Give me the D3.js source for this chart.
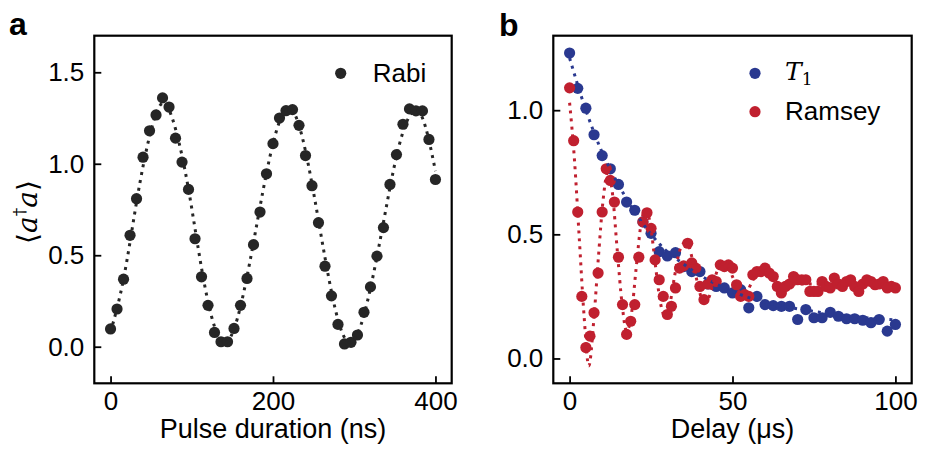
<!DOCTYPE html>
<html>
<head>
<meta charset="utf-8">
<script src="https://cdn.jsdelivr.net/npm/d3@7"></script>
<style>
  body { margin: 0; background: #fff; }
  svg text { font-family: "Liberation Sans", Arial, sans-serif; fill: #000; }
</style>
</head>
<body>
<div id="chart"></div>
<script>
// ---- panel a: Rabi oscillation ----
var rabiTime = [0, 8, 16, 24, 32, 40, 48, 56, 64, 72, 80, 88, 96, 104, 112, 120, 128, 136, 144, 152,
  160, 168, 176, 184, 192, 200, 208, 216, 224, 232, 240, 248, 256, 264, 272, 280, 288, 296, 304, 312,
  320, 328, 336, 344, 352, 360, 368, 376, 384, 392, 400];
var rabiPop = [0.097, 0.206, 0.369, 0.609, 0.809, 1.036, 1.18, 1.267, 1.36, 1.31, 1.14, 1.009, 0.86, 0.59, 0.382, 0.226, 0.078, 0.027, 0.027, 0.10,
  0.226, 0.373, 0.558, 0.736, 0.945, 1.11, 1.25, 1.29, 1.296, 1.21, 1.045, 0.88, 0.678, 0.44, 0.278, 0.122, 0.015, 0.024, 0.064, 0.188,
  0.327, 0.495, 0.651, 0.887, 1.05, 1.216, 1.30, 1.289, 1.289, 1.133, 0.914];
// fitted curve
var rabiFitTime = [0, 16, 32, 48, 64, 80, 96, 112, 128, 144, 160, 176, 192, 208, 224, 240, 256, 272, 288, 304, 320, 336, 352, 368, 384, 400];
var rabiFitPop = [0.08, 0.37, 0.79, 1.15, 1.33, 1.19, 0.86, 0.43, 0.11, 0.03, 0.22, 0.57, 0.95, 1.23, 1.29, 1.07, 0.69, 0.30, 0.05, 0.07, 0.32, 0.68, 1.04, 1.26, 1.25, 0.96];

// ---- panel b: T1 and Ramsey ----
var t1Delay = [0, 2.5, 5, 7.5, 10, 12.5, 15, 17.5, 20, 22.5, 25, 27.5, 30, 32.5, 35, 37.5, 40, 42.5, 45, 47.5,
  50, 52.5, 55, 57.5, 60, 62.5, 65, 67.5, 70, 72.5, 75, 77.5, 80, 82.5, 85, 87.5, 90, 92.5, 95, 97.5, 100];
var t1Pop = [1.23, 1.088, 1.008, 0.901, 0.817, 0.764, 0.701, 0.63, 0.597, 0.55, 0.504, 0.43, 0.413, 0.426, 0.37, 0.35, 0.35, 0.30, 0.29, 0.284,
  0.264, 0.277, 0.204, 0.25, 0.217, 0.213, 0.21, 0.21, 0.157, 0.197, 0.164, 0.164, 0.186, 0.17, 0.16, 0.16, 0.154, 0.144, 0.157, 0.11, 0.137];
var t1FitDelay = [0, 5, 10, 15, 20, 25, 30, 35, 40, 45, 50, 55, 60, 70, 80, 90, 100];
var t1FitPop = [1.21, 1.0, 0.83, 0.70, 0.59, 0.50, 0.43, 0.38, 0.335, 0.30, 0.27, 0.245, 0.225, 0.20, 0.18, 0.165, 0.155];

var ramseyDelay = [0, 1.25, 2.5, 3.75, 5, 6.25, 7.5, 8.75, 10, 11.25, 12.5, 13.75, 15, 16.25, 17.5, 18.75, 20, 21.25, 22.5, 23.75,
  25, 26.25, 27.5, 28.75, 30, 31.25, 32.5, 33.75, 35, 36.25, 37.5, 38.75, 40, 41.25, 42.5, 43.75, 45, 46.25, 47.5, 48.75,
  50, 51.25, 52.5, 53.75, 55, 56.25, 57.5, 58.75, 60, 61.25, 62.5, 63.75, 65, 66.25, 67.5, 68.75, 70, 71.25, 72.5, 73.75,
  75, 76.25, 77.5, 78.75, 80, 81.25, 82.5, 83.75, 85, 86.25, 87.5, 88.75, 90, 91.25, 92.5, 93.75, 95, 96.25, 97.5, 98.75, 100];
var ramseyPop = [1.09, 0.877, 0.59, 0.25, 0.044, 0.09, 0.184, 0.344, 0.59, 0.764, 0.717, 0.63, 0.408, 0.217, 0.097, 0.15, 0.217, 0.408, 0.55, 0.587,
  0.524, 0.397, 0.317, 0.25, 0.177, 0.21, 0.284, 0.364, 0.373, 0.464, 0.385, 0.364, 0.29, 0.237, 0.30, 0.317, 0.31, 0.377, 0.37, 0.377,
  0.364, 0.297, 0.25, 0.257, 0.25, 0.337, 0.35, 0.35, 0.364, 0.344, 0.33, 0.29, 0.264, 0.29, 0.30, 0.33, 0.317, 0.317, 0.317, 0.27,
  0.27, 0.27, 0.31, 0.29, 0.284, 0.324, 0.30, 0.29, 0.31, 0.317, 0.29, 0.27, 0.30, 0.317, 0.31, 0.297, 0.30, 0.31, 0.284, 0.29, 0.284];
var ramseyFitDelay = [0, 1.5, 2.9, 4.4, 5.9, 7.4, 8.8, 10.3, 11.7, 13.2, 14.6, 16.1, 17.5, 19, 20.4, 21.9, 23.4, 24.9, 26.3, 27.8,
  29.3, 30.8, 32.2, 33.7, 35.2, 36.6, 38, 39.5, 41, 42.5, 44, 45.5, 47, 48.5, 50, 51.5, 53, 54.5, 56, 57.5, 59, 65, 80, 100];
var ramseyFitPop = [1.03, 0.80, 0.50, 0.18, -0.03, 0.15, 0.40, 0.64, 0.75, 0.66, 0.44, 0.22, 0.11, 0.18, 0.36, 0.54, 0.60, 0.53, 0.38, 0.23,
  0.17, 0.22, 0.33, 0.43, 0.465, 0.45, 0.38, 0.29, 0.23, 0.24, 0.30, 0.36, 0.39, 0.37, 0.33, 0.28, 0.26, 0.27, 0.31, 0.34, 0.35, 0.30, 0.30, 0.30];

var ticksAx = [0, 200, 400];
var ticksAy = [0, 0.5, 1.0, 1.5];
var ticksBx = [0, 50, 100];
var ticksBy = [0, 0.5, 1.0];

var dark = "#262626";
var blue = "#2a3990";
var red = "#c0202f";

var W = 937, H = 457;
var svg = d3.select("#chart").append("svg")
  .attr("width", W).attr("height", H);

// frame boxes (pixel layout of both panels)
var boxA = {left: 94.3, right: 451.7, top: 35.7, bottom: 383.3};
var boxB = {left: 553.3, right: 911.7, top: 35.7, bottom: 383.3};

var xa = d3.scaleLinear().domain([-20, 420]).range([boxA.left, boxA.right]);
var ya = d3.scaleLinear().domain([-0.2, 1.7]).range([boxA.bottom, boxA.top]);
var xb = d3.scaleLinear().domain([-5, 105]).range([boxB.left, boxB.right]);
var yb = d3.scaleLinear().domain([-0.1, 1.3]).range([boxB.bottom, boxB.top]);

function drawAxes(box, x, y, xt, yt, xfmt, yfmt) {
  var gx = svg.append("g")
    .attr("transform", "translate(0," + box.bottom + ")")
    .call(d3.axisBottom(x).tickValues(xt).tickFormat(xfmt).tickSize(-7).tickPadding(8));
  var gy = svg.append("g")
    .attr("transform", "translate(" + box.left + ",0)")
    .call(d3.axisLeft(y).tickValues(yt).tickFormat(yfmt).tickSize(-7).tickPadding(10));
  [gx, gy].forEach(function(g) {
    g.select(".domain").remove();
    g.selectAll(".tick line").attr("stroke", "#000").attr("stroke-width", 1.8);
    g.selectAll(".tick text").attr("font-size", 26).attr("fill", "#000")
      .style("font-family", '"Liberation Sans", Arial, sans-serif');
  });
  svg.append("rect")
    .attr("x", box.left).attr("y", box.top)
    .attr("width", box.right - box.left).attr("height", box.bottom - box.top)
    .attr("fill", "none").attr("stroke", "#000").attr("stroke-width", 2.2);
}

drawAxes(boxA, xa, ya, ticksAx, ticksAy, d3.format("d"), d3.format(".1f"));
drawAxes(boxB, xb, yb, ticksBx, ticksBy, d3.format("d"), d3.format(".1f"));

function zip(xs, ys) { return xs.map(function(v, i) { return [v, ys[i]]; }); }

function dots(data, x, y, color) {
  svg.append("g").selectAll("circle").data(data).enter().append("circle")
    .attr("cx", function(d) { return x(d[0]); })
    .attr("cy", function(d) { return y(d[1]); })
    .attr("r", 5.6)
    .attr("fill", color);
}

function fitLine(data, x, y, color, curve) {
  var line = d3.line()
    .x(function(d) { return x(d[0]); })
    .y(function(d) { return y(d[1]); })
    .curve(curve);
  svg.append("path")
    .attr("d", line(data))
    .attr("fill", "none")
    .attr("stroke", color)
    .attr("stroke-width", 3)
    .attr("stroke-dasharray", "3,5");
}

// panel a marks
dots(zip(rabiTime, rabiPop), xa, ya, dark);
fitLine(zip(rabiFitTime, rabiFitPop), xa, ya, dark, d3.curveNatural);

// panel b marks
dots(zip(t1Delay, t1Pop), xb, yb, blue);
dots(zip(ramseyDelay, ramseyPop), xb, yb, red);
fitLine(zip(t1FitDelay, t1FitPop), xb, yb, blue, d3.curveMonotoneX);
fitLine(zip(ramseyFitDelay, ramseyFitPop), xb, yb, red, d3.curveMonotoneX);

// axis titles
svg.append("text").attr("x", (boxA.left + boxA.right) / 2).attr("y", 438)
  .attr("text-anchor", "middle").attr("font-size", 27).text("Pulse duration (ns)");
svg.append("text").attr("x", (boxB.left + boxB.right) / 2).attr("y", 438)
  .attr("text-anchor", "middle").attr("font-size", 27).text("Delay (μs)");

// y label  <a†a>
var yl = svg.append("text")
  .attr("transform", "translate(37,212) rotate(-90)")
  .attr("text-anchor", "middle")
  .attr("font-size", 28)
  .style("font-family", '"DejaVu Serif", serif');
yl.append("tspan").text("⟨");
yl.append("tspan").attr("font-style", "italic").text("a");
yl.append("tspan").attr("font-size", 17).attr("dy", -12).text("†");
yl.append("tspan").attr("font-style", "italic").attr("dy", 12).text("a");
yl.append("tspan").text("⟩");

// panel letters
svg.append("text").attr("x", 9).attr("y", 35).attr("font-size", 32).attr("font-weight", "bold").text("a");
svg.append("text").attr("x", 499).attr("y", 36).attr("font-size", 32).attr("font-weight", "bold").text("b");

// legends
var legA = svg.append("g").attr("transform", "translate(" + (boxA.right - 111) + ",73.3)");
legA.append("circle").attr("r", 5.6).attr("fill", dark);
legA.append("text").attr("x", 32).attr("y", 9).attr("font-size", 26).text("Rabi");

var legB = svg.append("g").attr("transform", "translate(" + (boxB.right - 156.7) + ",73.3)");
legB.append("circle").attr("r", 5.6).attr("fill", blue);
var t1 = legB.append("text").attr("x", 30).attr("y", 7).attr("font-size", 25)
  .style("font-family", '"DejaVu Serif", serif');
t1.append("tspan").attr("font-style", "italic").text("T");
t1.append("tspan").attr("font-size", 17).attr("dy", 5).text("1");
legB.append("circle").attr("cy", 38.4).attr("r", 5.6).attr("fill", red);
legB.append("text").attr("x", 30).attr("y", 47).attr("font-size", 26).text("Ramsey");
</script>
</body>
</html>
